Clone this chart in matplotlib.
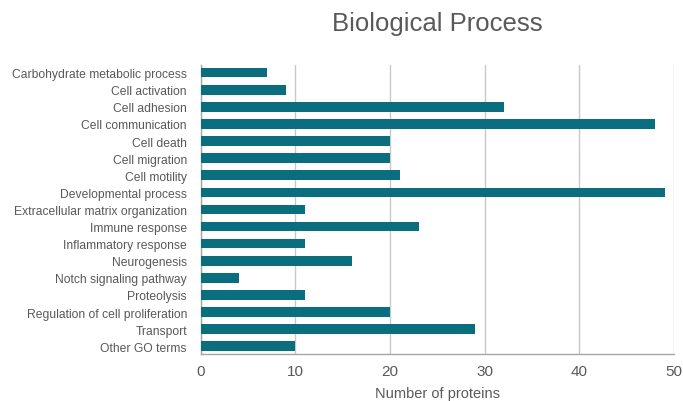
import matplotlib
matplotlib.use("Agg")
from matplotlib import pyplot as plt
import numpy as np

categories = ['Carbohydrate metabolic process', 'Cell activation', 'Cell adhesion',
              'Cell communication', 'Cell death', 'Cell migration', 'Cell motility',
              'Developmental process', 'Extracellular matrix organization',
              'Immune response', 'Inflammatory response', 'Neurogenesis',
              'Notch signaling pathway', 'Proteolysis',
              'Regulation of cell proliferation', 'Transport', 'Other GO terms']
counts = [7, 9, 32, 48, 20, 20, 21, 49, 11, 23, 11, 16, 4, 11, 20, 29, 10]
xticks = [0, 10, 20, 30, 40, 50]

plt.rcParams['font.family'] = ['Liberation Sans', 'DejaVu Sans']
grey = '#595959'

fig = plt.figure(figsize=(6.83, 4.02), dpi=100)
ax = fig.add_axes([0.294, 0.117, 0.693, 0.719])

y = np.arange(len(categories))
ax.barh(y, counts, height=0.56, color='#0b6e7f', zorder=3)
ax.set_yticks(y)
ax.set_yticklabels(categories, fontsize=8.7, color=grey)
ax.set_ylim(len(categories) - 0.55, -0.45)

ax.set_xlim(0, 50)
ax.set_xticks(xticks)
ax.set_xticklabels([str(t) for t in xticks], fontsize=11, color=grey)
ax.xaxis.grid(True, color='#c8c8c8', linewidth=1, zorder=0)
ax.tick_params(length=0, pad=7)
ax.tick_params(axis='y', pad=10)

for s in ['top', 'right']:
    ax.spines[s].set_visible(False)
for s in ['left', 'bottom']:
    ax.spines[s].set_color('#a6a6a6')
    ax.spines[s].set_linewidth(1)

ax.set_xlabel('Number of proteins', fontsize=10.5, color=grey, labelpad=6)
fig.text(0.64, 0.94, 'Biological Process', fontsize=18.5, color=grey,
         ha='center', va='center')

fig.savefig('out.png', dpi=100)
